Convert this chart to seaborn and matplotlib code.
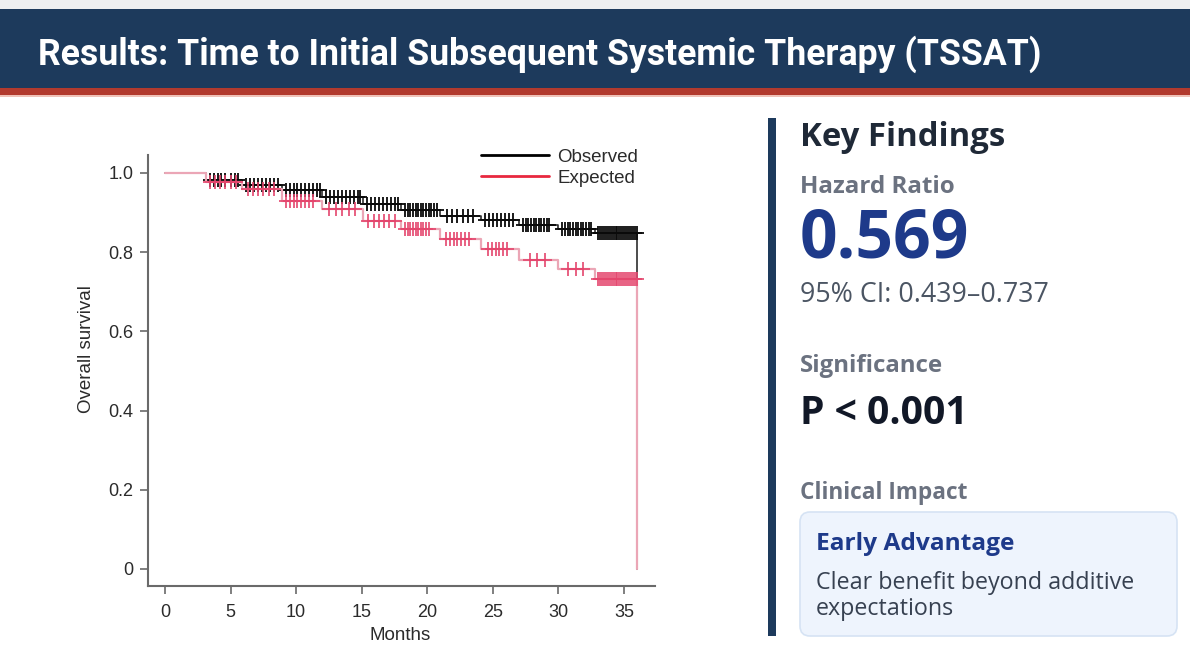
import numpy as np
import pandas as pd
import matplotlib
matplotlib.use("Agg")
import matplotlib.pyplot as plt
import seaborn as sns
from matplotlib.lines import Line2D
from matplotlib.patches import Rectangle, FancyBboxPatch
from matplotlib import font_manager

# ---------------- data ----------------
step_times = [0, 3.1, 5.9, 8.9, 12.0, 15.1, 18.0, 21.0, 24.1, 27.0, 30.0, 32.8, 36.0]
observed_surv = [1.0, 0.981, 0.969, 0.957, 0.939, 0.922, 0.906, 0.892, 0.882, 0.869, 0.858, 0.847, 0.0]
expected_surv = [1.0, 0.977, 0.958, 0.930, 0.909, 0.879, 0.858, 0.832, 0.807, 0.781, 0.756, 0.732, 0.0]

observed_censor = [3.4, 3.7, 4.0, 4.3, 4.6, 5.0, 5.3, 5.6,
                   6.2, 6.5, 6.8, 7.1, 7.4, 7.7, 8.0, 8.3, 8.6,
                   9.2, 9.5, 9.8, 10.1, 10.4, 10.7, 11.0, 11.3, 11.6, 11.8,
                   12.3, 12.6, 12.9, 13.2, 13.5, 13.8, 14.1, 14.4, 14.7, 14.9,
                   15.4, 15.7, 16.0, 16.3, 16.6, 16.9, 17.2, 17.5, 17.8,
                   18.3, 18.5, 18.7, 18.9, 19.1, 19.3, 19.5, 19.7, 19.9, 20.1, 20.3, 20.5, 20.7,
                   21.5, 21.9, 22.3, 22.7, 23.1, 23.5,
                   24.4, 24.7, 25.0, 25.3, 25.6, 25.9, 26.2, 26.5,
                   27.3, 27.5, 27.7, 27.9, 28.1, 28.3, 28.5, 28.7, 28.9, 29.1, 29.3,
                   30.3, 30.5, 30.7, 30.9, 31.1, 31.3, 31.5, 31.7, 31.9, 32.1, 32.3, 32.5,
                   33.0, 33.15, 33.3, 33.45, 33.6, 33.75, 33.9, 34.05, 34.2, 34.35, 34.5,
                   34.65, 34.8, 34.95, 35.1, 35.25, 35.4, 35.55, 35.7, 35.85, 35.99]
expected_censor = [3.4, 3.8, 4.2, 4.6, 5.0, 5.4,
                   6.3, 6.7, 7.1, 7.5, 7.9, 8.3,
                   9.2, 9.5, 9.8, 10.1, 10.4, 10.7, 11.0, 11.3,
                   12.5, 13.0, 13.5, 14.0, 14.5,
                   15.5, 15.9, 16.3, 16.7, 17.1, 17.5,
                   18.3, 18.5, 18.7, 18.9, 19.1, 19.3, 19.5, 19.7, 19.9, 20.1,
                   21.4, 21.7, 22.0, 22.3, 22.6, 22.9, 23.2,
                   24.6, 24.9, 25.2, 25.5, 25.8, 26.1,
                   27.8, 28.4, 29.0,
                   30.7, 31.3, 31.9,
                   33.0, 33.15, 33.3, 33.45, 33.6, 33.75, 33.9, 34.05, 34.2, 34.35, 34.5,
                   34.65, 34.8, 34.95, 35.1, 35.25, 35.4, 35.55, 35.7, 35.85, 35.99]

x_ticks = [0, 5, 10, 15, 20, 25, 30, 35]
y_ticks = [0, 0.2, 0.4, 0.6, 0.8, 1.0]
y_tick_labels = ["0", "0.2", "0.4", "0.6", "0.8", "1.0"]
series_names = ["Observed", "Expected"]

title = "Results: Time to Initial Subsequent Systemic Therapy (TSSAT)"

# ---------------- style ----------------
sns.set_theme(style="white")
plt.rcParams["font.family"] = ["Liberation Sans", "DejaVu Sans"]

available = {f.name for f in font_manager.fontManager.ttflist}
if "Liberation Sans Narrow" in available:
    title_family = "Liberation Sans Narrow"
elif "Roboto" in available:
    title_family = "Roboto"
else:
    title_family = "Open Sans"
panel_family = "Open Sans" if "Open Sans" in available else "DejaVu Sans"

W, H = 1190, 654
fig = plt.figure(figsize=(W / 100, H / 100), dpi=100)
fig.patch.set_facecolor("white")

# background canvas in pixel units
bg = fig.add_axes([0, 0, 1, 1], zorder=0)
bg.set_xlim(0, W)
bg.set_ylim(H, 0)
bg.axis("off")

bg.add_patch(Rectangle((0, 0), W, 10, color="#eeeff1", lw=0))
bg.add_patch(Rectangle((0, 9), W, 79, color="#1d3a5c", lw=0))
bg.add_patch(Rectangle((0, 88), W, 7, color="#b23a2e", lw=0))
bg.add_patch(Rectangle((0, 95), W, 2, color="#efc2b8", lw=0))

# right panel decorations
bg.add_patch(Rectangle((768, 118), 8, 518, color="#1d3a5c", lw=0))
bg.add_patch(FancyBboxPatch((800, 512), 377, 124,
                            boxstyle="round,pad=0,rounding_size=10",
                            facecolor="#eef4fd", edgecolor="#d6e3f4", lw=1.2))

renderer = fig.canvas.get_renderer()


def put(text, x0, x1, ybase, color, weight, family, base=20):
    t = bg.text(x0, ybase, text, fontsize=base, color=color, fontweight=weight,
                family=family, ha="left", va="baseline")
    w = t.get_window_extent(renderer).width
    t.set_fontsize(base * (x1 - x0) / w)
    return t


put(title, 38, 1040, 65, "white", "bold", title_family, base=24)
put("Key Findings", 800, 1005, 146, "#1f2937", "bold", panel_family)
put("Hazard Ratio", 800, 955, 193, "#6b7280", "bold", panel_family)
put("0.569", 800, 970, 258, "#1e3a8a", "bold", panel_family)
put("95% CI: 0.439\u20130.737", 800, 1047, 302, "#4b5563", "normal", panel_family)
put("Significance", 800, 943, 372, "#6b7280", "bold", panel_family)
put("P < 0.001", 800, 968, 424, "#111827", "bold", panel_family)
put("Clinical Impact", 800, 967, 499, "#6b7280", "bold", panel_family)
put("Early Advantage", 816, 1014, 550, "#1e3a8a", "bold", panel_family)
put("Clear benefit beyond additive", 816, 1133, 589, "#374151", "normal", panel_family)
put("expectations", 816, 954, 615, "#374151", "normal", panel_family)

# ---------------- KM chart ----------------
ax = fig.add_axes([147.6 / W, 1 - 586 / H, 507.4 / W, (586 - 155) / H], zorder=1)
ax.patch.set_alpha(0)

obs_df = pd.DataFrame({"Months": step_times, "Survival": observed_surv})
exp_df = pd.DataFrame({"Months": step_times, "Survival": expected_surv})


def surv_at(times, surv, t):
    idx = np.searchsorted(np.asarray(times), np.asarray(t), side="right") - 1
    return np.asarray(surv)[idx]


obs_c = pd.DataFrame({"Months": observed_censor,
                      "Survival": surv_at(step_times, observed_surv, observed_censor)})
exp_c = pd.DataFrame({"Months": expected_censor,
                      "Survival": surv_at(step_times, expected_surv, expected_censor)})

sns.lineplot(data=obs_df, x="Months", y="Survival", drawstyle="steps-post",
             estimator=None, sort=False, color="#2e2e2e", lw=1.2, ax=ax, zorder=2)
sns.scatterplot(data=obs_c, x="Months", y="Survival", marker="+", s=100,
                color="#0a0a0a", linewidth=1.3, ax=ax, zorder=3)
sns.lineplot(data=exp_df, x="Months", y="Survival", drawstyle="steps-post",
             estimator=None, sort=False, color="#eba6b6", lw=1.6, ax=ax, zorder=4)
sns.scatterplot(data=exp_c, x="Months", y="Survival", marker="+", s=100,
                color="#e4466d", linewidth=1.2, ax=ax, zorder=5)

ax.set_xlim(-1.33, 37.36)
ax.set_ylim(-0.043, 1.045)
ax.set_xticks(x_ticks)
ax.set_xticklabels([str(v) for v in x_ticks])
ax.set_yticks(y_ticks)
ax.set_yticklabels(y_tick_labels)
for side in ["top", "right"]:
    ax.spines[side].set_visible(False)
for side in ["left", "bottom"]:
    ax.spines[side].set_color("#6a6a6a")
    ax.spines[side].set_linewidth(1.5)
ax.tick_params(axis="both", direction="out", length=6, width=1.2, color="#6a6a6a",
               labelsize=13, labelcolor="#2b2b2b", left=True, bottom=True)
ax.tick_params(axis="x", pad=7)
ax.tick_params(axis="y", pad=4)
ax.grid(False)
ax.set_xlabel("Months", fontsize=13.5, color="#2b2b2b")
ax.set_ylabel("Overall survival", fontsize=13.5, color="#2b2b2b")
ax.xaxis.set_label_coords(0.497, -0.095)
ax.yaxis.set_label_coords(-0.104, 0.55)

handles = [Line2D([0], [0], color="black", lw=2),
           Line2D([0], [0], color="#e8283f", lw=2)]
ax.legend(handles, series_names, loc="upper right", bbox_to_anchor=(0.967, 1.015),
          frameon=False, fontsize=13.5, handlelength=3.6, handletextpad=0.45,
          labelspacing=0.2, borderpad=0, borderaxespad=0, labelcolor="#2b2b2b")

fig.savefig("out.png", dpi=100)
